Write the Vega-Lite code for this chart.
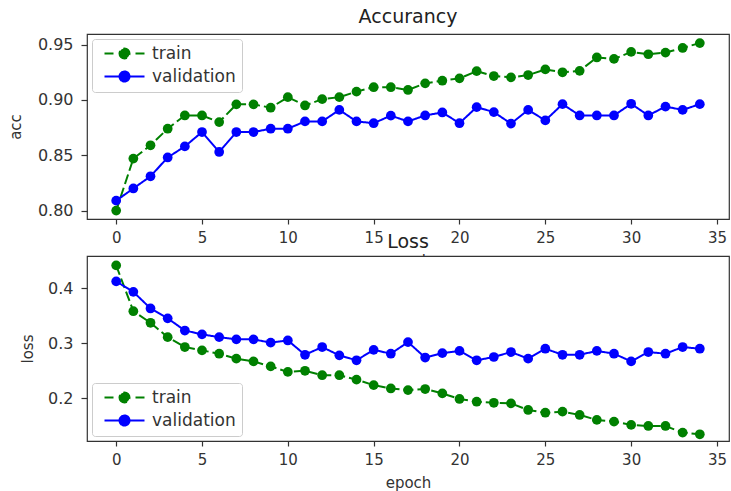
{
  "$schema": "https://vega.github.io/schema/vega-lite/v6.json",
  "padding": {"left": 7, "top": 7, "right": 0, "bottom": 0},
  "bounds": "flush",
  "spacing": 37,
  "datasets": {
    "history": [
      {"epoch": 0, "series": "train", "acc": 0.800, "loss": 0.441},
      {"epoch": 1, "series": "train", "acc": 0.847, "loss": 0.358},
      {"epoch": 2, "series": "train", "acc": 0.859, "loss": 0.337},
      {"epoch": 3, "series": "train", "acc": 0.874, "loss": 0.311},
      {"epoch": 4, "series": "train", "acc": 0.886, "loss": 0.293},
      {"epoch": 5, "series": "train", "acc": 0.886, "loss": 0.287},
      {"epoch": 6, "series": "train", "acc": 0.880, "loss": 0.281},
      {"epoch": 7, "series": "train", "acc": 0.896, "loss": 0.272},
      {"epoch": 8, "series": "train", "acc": 0.896, "loss": 0.267},
      {"epoch": 9, "series": "train", "acc": 0.893, "loss": 0.258},
      {"epoch": 10, "series": "train", "acc": 0.9025, "loss": 0.248},
      {"epoch": 11, "series": "train", "acc": 0.895, "loss": 0.250},
      {"epoch": 12, "series": "train", "acc": 0.9007, "loss": 0.242},
      {"epoch": 13, "series": "train", "acc": 0.9025, "loss": 0.242},
      {"epoch": 14, "series": "train", "acc": 0.9075, "loss": 0.234},
      {"epoch": 15, "series": "train", "acc": 0.9115, "loss": 0.224},
      {"epoch": 16, "series": "train", "acc": 0.9115, "loss": 0.218},
      {"epoch": 17, "series": "train", "acc": 0.909, "loss": 0.215},
      {"epoch": 18, "series": "train", "acc": 0.915, "loss": 0.217},
      {"epoch": 19, "series": "train", "acc": 0.9174, "loss": 0.209},
      {"epoch": 20, "series": "train", "acc": 0.9195, "loss": 0.199},
      {"epoch": 21, "series": "train", "acc": 0.926, "loss": 0.194},
      {"epoch": 22, "series": "train", "acc": 0.9216, "loss": 0.192},
      {"epoch": 23, "series": "train", "acc": 0.9204, "loss": 0.191},
      {"epoch": 24, "series": "train", "acc": 0.9225, "loss": 0.179},
      {"epoch": 25, "series": "train", "acc": 0.9276, "loss": 0.174},
      {"epoch": 26, "series": "train", "acc": 0.925, "loss": 0.176},
      {"epoch": 27, "series": "train", "acc": 0.9263, "loss": 0.170},
      {"epoch": 28, "series": "train", "acc": 0.9384, "loss": 0.161},
      {"epoch": 29, "series": "train", "acc": 0.9371, "loss": 0.158},
      {"epoch": 30, "series": "train", "acc": 0.9434, "loss": 0.152},
      {"epoch": 31, "series": "train", "acc": 0.9413, "loss": 0.150},
      {"epoch": 32, "series": "train", "acc": 0.9428, "loss": 0.150},
      {"epoch": 33, "series": "train", "acc": 0.947, "loss": 0.138},
      {"epoch": 34, "series": "train", "acc": 0.9514, "loss": 0.135},
      {"epoch": 0, "series": "validation", "acc": 0.809, "loss": 0.412},
      {"epoch": 1, "series": "validation", "acc": 0.820, "loss": 0.393},
      {"epoch": 2, "series": "validation", "acc": 0.831, "loss": 0.363},
      {"epoch": 3, "series": "validation", "acc": 0.848, "loss": 0.345},
      {"epoch": 4, "series": "validation", "acc": 0.858, "loss": 0.323},
      {"epoch": 5, "series": "validation", "acc": 0.871, "loss": 0.316},
      {"epoch": 6, "series": "validation", "acc": 0.853, "loss": 0.311},
      {"epoch": 7, "series": "validation", "acc": 0.871, "loss": 0.307},
      {"epoch": 8, "series": "validation", "acc": 0.871, "loss": 0.307},
      {"epoch": 9, "series": "validation", "acc": 0.874, "loss": 0.301},
      {"epoch": 10, "series": "validation", "acc": 0.874, "loss": 0.305},
      {"epoch": 11, "series": "validation", "acc": 0.8806, "loss": 0.279},
      {"epoch": 12, "series": "validation", "acc": 0.8806, "loss": 0.293},
      {"epoch": 13, "series": "validation", "acc": 0.891, "loss": 0.278},
      {"epoch": 14, "series": "validation", "acc": 0.8806, "loss": 0.269},
      {"epoch": 15, "series": "validation", "acc": 0.879, "loss": 0.288},
      {"epoch": 16, "series": "validation", "acc": 0.8858, "loss": 0.281},
      {"epoch": 17, "series": "validation", "acc": 0.8806, "loss": 0.302},
      {"epoch": 18, "series": "validation", "acc": 0.886, "loss": 0.274},
      {"epoch": 19, "series": "validation", "acc": 0.8887, "loss": 0.282},
      {"epoch": 20, "series": "validation", "acc": 0.879, "loss": 0.286},
      {"epoch": 21, "series": "validation", "acc": 0.8935, "loss": 0.269},
      {"epoch": 22, "series": "validation", "acc": 0.889, "loss": 0.275},
      {"epoch": 23, "series": "validation", "acc": 0.8786, "loss": 0.284},
      {"epoch": 24, "series": "validation", "acc": 0.891, "loss": 0.272},
      {"epoch": 25, "series": "validation", "acc": 0.8815, "loss": 0.290},
      {"epoch": 26, "series": "validation", "acc": 0.8962, "loss": 0.279},
      {"epoch": 27, "series": "validation", "acc": 0.886, "loss": 0.279},
      {"epoch": 28, "series": "validation", "acc": 0.886, "loss": 0.286},
      {"epoch": 29, "series": "validation", "acc": 0.886, "loss": 0.281},
      {"epoch": 30, "series": "validation", "acc": 0.8965, "loss": 0.267},
      {"epoch": 31, "series": "validation", "acc": 0.886, "loss": 0.284},
      {"epoch": 32, "series": "validation", "acc": 0.894, "loss": 0.281},
      {"epoch": 33, "series": "validation", "acc": 0.891, "loss": 0.293},
      {"epoch": 34, "series": "validation", "acc": 0.8962, "loss": 0.290}
    ]
  },
  "vconcat": [
    {
      "width": 642,
      "height": 185,
      "data": {"name": "history"},
      "title": {"text": "Accurancy", "offset": 7},
      "encoding": {
        "x": {
          "field": "epoch", "type": "quantitative",
          "scale": {"domain": [-1.7, 35.7], "nice": false, "zero": false},
          "axis": {"values": [0, 5, 10, 15, 20, 25, 30, 35], "title": "epoch", "titlePadding": 8}
        },
        "y": {
          "field": "acc", "type": "quantitative",
          "scale": {"domain": [0.7924, 0.9596], "nice": false, "zero": false},
          "axis": {"values": [0.80, 0.85, 0.90, 0.95], "format": ".2f", "title": "acc", "titlePadding": 14}
        },
        "color": {
          "field": "series", "type": "nominal",
          "scale": {"domain": ["train", "validation"], "range": ["#008000", "#0000ff"]},
          "legend": null
        }
      },
      "layer": [
        {
          "mark": {"type": "line", "strokeWidth": 2},
          "encoding": {
            "strokeDash": {
              "field": "series", "type": "nominal",
              "scale": {"domain": ["train", "validation"], "range": [[10, 4], [1, 0]]},
              "legend": null
            },
            "color": {
              "field": "series", "type": "nominal",
              "scale": {"domain": ["train", "validation"], "range": ["#008000", "#0000ff"]},
              "legend": {
                "orient": "top-left",
                "encode": {
                  "symbols": {
                    "update": {
                      "shape": {"signal": "datum.value === 'train' ? 'M-4,0H-2.2M2.2,0H4M-1,0A1,1 0 1,0 1,0A1,1 0 1,0 -1,0Z' : 'M-4,0H4M-1,0A1,1 0 1,0 1,0A1,1 0 1,0 -1,0Z'"},
                      "fill": {"signal": "datum.value === 'train' ? '#008000' : '#0000ff'"},
                      "stroke": {"signal": "datum.value === 'train' ? '#008000' : '#0000ff'"},
                      "strokeWidth": {"value": 2},
                      "strokeDash": {"value": []},
                      "opacity": {"value": 1}
                    }
                  }
                }
              }
            }
          }
        },
        {
          "mark": {"type": "point", "filled": true, "size": 95, "opacity": 1}
        }
      ]
    },
    {
      "width": 642,
      "height": 185,
      "data": {"name": "history"},
      "title": {"text": "Loss", "offset": 4},
      "encoding": {
        "x": {
          "field": "epoch", "type": "quantitative",
          "scale": {"domain": [-1.7, 35.7], "nice": false, "zero": false},
          "axis": {"values": [0, 5, 10, 15, 20, 25, 30, 35], "title": "epoch", "titlePadding": 8}
        },
        "y": {
          "field": "loss", "type": "quantitative",
          "scale": {"domain": [0.1228, 0.458], "nice": false, "zero": false},
          "axis": {"values": [0.2, 0.3, 0.4], "format": ".1f", "title": "loss", "titlePadding": 12}
        },
        "color": {
          "field": "series", "type": "nominal",
          "scale": {"domain": ["train", "validation"], "range": ["#008000", "#0000ff"]},
          "legend": null
        }
      },
      "layer": [
        {
          "mark": {"type": "line", "strokeWidth": 2},
          "encoding": {
            "strokeDash": {
              "field": "series", "type": "nominal",
              "scale": {"domain": ["train", "validation"], "range": [[10, 4], [1, 0]]},
              "legend": null
            },
            "color": {
              "field": "series", "type": "nominal",
              "scale": {"domain": ["train", "validation"], "range": ["#008000", "#0000ff"]},
              "legend": {
                "orient": "bottom-left",
                "encode": {
                  "symbols": {
                    "update": {
                      "shape": {"signal": "datum.value === 'train' ? 'M-4,0H-2.2M2.2,0H4M-1,0A1,1 0 1,0 1,0A1,1 0 1,0 -1,0Z' : 'M-4,0H4M-1,0A1,1 0 1,0 1,0A1,1 0 1,0 -1,0Z'"},
                      "fill": {"signal": "datum.value === 'train' ? '#008000' : '#0000ff'"},
                      "stroke": {"signal": "datum.value === 'train' ? '#008000' : '#0000ff'"},
                      "strokeWidth": {"value": 2},
                      "strokeDash": {"value": []},
                      "opacity": {"value": 1}
                    }
                  }
                }
              }
            }
          }
        },
        {
          "mark": {"type": "point", "filled": true, "size": 95, "opacity": 1}
        }
      ]
    }
  ],
  "resolve": {"scale": {"color": "independent", "strokeDash": "independent"}},
  "config": {
    "font": "DejaVu Sans",
    "view": {"stroke": "#333333", "strokeWidth": 1.2, "fill": "white"},
    "axis": {
      "domain": false, "grid": false,
      "tickColor": "#333333", "tickSize": 5, "tickWidth": 1.2,
      "labelFontSize": 15, "labelColor": "#333333", "labelPadding": 6,
      "titleFontSize": 15, "titleFontWeight": "normal", "titleColor": "#333333"
    },
    "axisY": {"tickSize": 6, "labelPadding": 8, "labelFontSize": 16},
    "title": {"fontSize": 19, "fontWeight": "normal", "color": "#222222", "anchor": "middle"},
    "legend": {
      "title": null,
      "offset": 5,
      "padding": 6,
      "strokeColor": "#cccccc",
      "fillColor": "rgba(255,255,255,0.8)",
      "cornerRadius": 3,
      "labelFontSize": 17,
      "labelColor": "#333333",
      "labelOffset": 19,
      "symbolOffset": 18,
      "rowPadding": 4,
      "symbolSize": 100
    }
  }
}
